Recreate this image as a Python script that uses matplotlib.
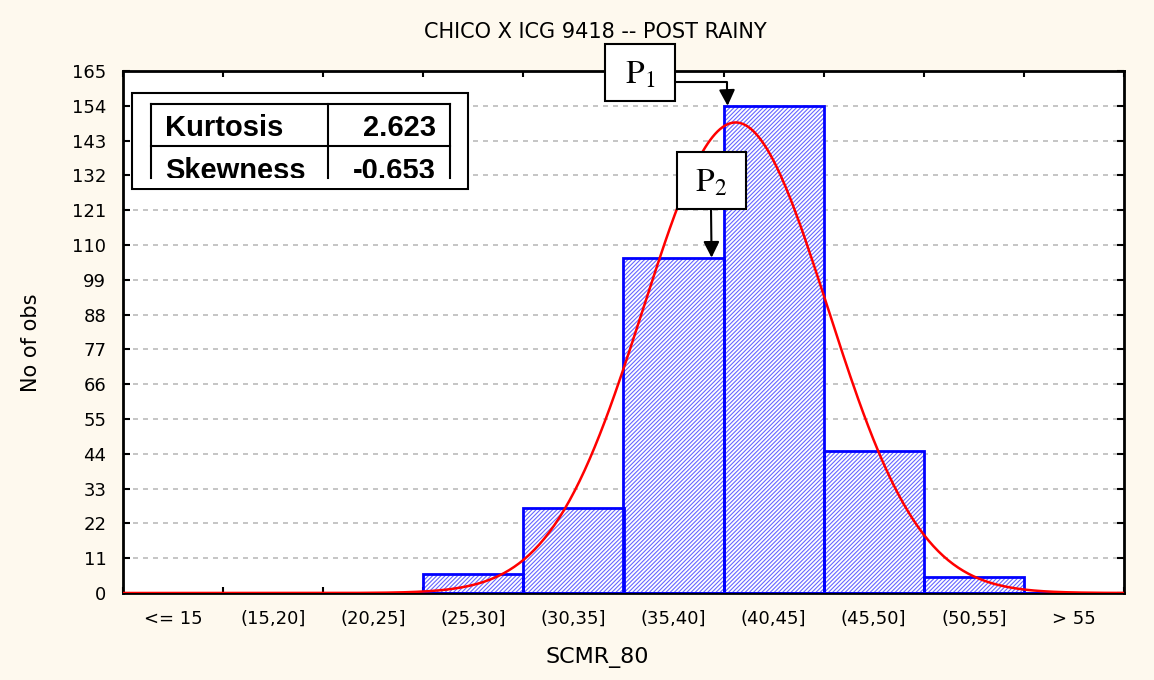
import numpy as np
import matplotlib.pyplot as plt
from matplotlib.patches import Rectangle
from matplotlib.lines import Line2D

# bins of SCMR_80 and counts
bin_labels = ["<= 15", "(15,20]", "(20,25]", "(25,30]", "(30,35]",
              "(35,40]", "(40,45]", "(45,50]", "(50,55]", "> 55"]
bin_left = [10, 15, 20, 25, 30, 35, 40, 45, 50, 55]
counts = [0, 0, 0, 6, 27, 106, 154, 45, 5, 0]
y_ticks = [0, 11, 22, 33, 44, 55, 66, 77, 88, 99, 110, 121, 132, 143, 154, 165]

# fitted normal curve parameters
fit_mean = 40.6
fit_sd = 4.6
bin_width = 5

kurtosis = "2.623"
skewness = "-0.653"

W, H = 1154, 680
plt.rcParams['font.family'] = ['DejaVu Sans']
plt.rcParams['hatch.linewidth'] = 0.8
plt.rcParams['mathtext.fontset'] = 'stix'

fig = plt.figure(figsize=(W / 100, H / 100), dpi=100, facecolor='#fef9ee')


def fx(px):
    return px / W


def fy(py):
    return 1 - py / H


ax = fig.add_axes([fx(123), fy(593), fx(1124) - fx(123), fy(71) - fy(593)])
ax.set_facecolor('white')

centers = [b + bin_width / 2 for b in bin_left]
ax.bar(bin_left, counts, width=bin_width, align='edge', color='white',
       edgecolor='#6666ff', hatch='////////', linewidth=0, zorder=2)
ax.bar(bin_left, counts, width=bin_width, align='edge', fill=False,
       edgecolor='#0000ff', linewidth=2, zorder=3)

n_total = sum(counts)
xs = np.linspace(10, 60, 400)
ys = n_total * bin_width / (fit_sd * np.sqrt(2 * np.pi)) * np.exp(-(xs - fit_mean) ** 2 / (2 * fit_sd ** 2))
ax.plot(xs, ys, color='red', linewidth=1.8, zorder=4)

ax.set_xlim(10, 60)
ax.set_ylim(0, 165)
ax.set_yticks(y_ticks)
ax.set_xticks(bin_left + [60])
ax.set_xticklabels([])
ax.set_xticks(centers, minor=True)
ax.set_xticklabels(bin_labels, minor=True)
ax.tick_params(axis='x', which='minor', length=0, pad=12, labelsize=13)
ax.tick_params(axis='x', which='major', direction='in', length=4, width=1.5, top=True)
ax.tick_params(axis='y', direction='in', length=5, width=1.5, right=True, labelsize=13, pad=12)
ax.yaxis.grid(True, color='#bbbbbb', linestyle=(0, (3, 3)), linewidth=1.2, zorder=0)
ax.set_axisbelow(True)
for s in ax.spines.values():
    s.set_linewidth(2)

fig.text(fx(597), fy(658), "SCMR_80", ha='center', va='center', fontsize=16)
fig.text(fx(31), fy(343), "No of obs", ha='center', va='center', rotation=90, fontsize=15)
fig.text(fx(595), fy(32), "CHICO X ICG 9418 -- POST RAINY", ha='center', va='center', fontsize=15)

# stats box
box_font = dict(fontsize=21, fontweight='bold', family='Liberation Sans', va='center', zorder=6)
fig.patches.append(Rectangle((fx(132), fy(189)), fx(468) - fx(132), fy(93) - fy(189),
                             transform=fig.transFigure, facecolor='white', edgecolor='black',
                             linewidth=1.5, zorder=5))
fig.text(fx(165), fy(128), "Kurtosis", **box_font)
fig.text(fx(436), fy(128), kurtosis, ha='right', **box_font)
fig.text(fx(165), fy(171), "Skewness", **box_font)
fig.text(fx(436), fy(171), skewness, ha='right', **box_font)
fig.patches.append(Rectangle((fx(134), fy(187.5)), fx(466) - fx(134), fy(178) - fy(187.5),
                             transform=fig.transFigure, facecolor='white', edgecolor='none', zorder=7))
for x0, y0, x1, y1 in [(151, 104, 450, 104), (151, 146, 450, 146),
                       (151, 104, 151, 178), (328, 104, 328, 178), (450, 104, 450, 178)]:
    fig.add_artist(Line2D([fx(x0), fx(x1)], [fy(y0), fy(y1)], color='black', linewidth=1.5, zorder=8))

# P1 / P2 annotation boxes
for (x0, y0, x1, y1, lab) in [(605, 44, 675, 101, r"$\mathrm{P}_1$"), (677, 152, 746, 209, r"$\mathrm{P}_2$")]:
    fig.patches.append(Rectangle((fx(x0), fy(y1)), fx(x1) - fx(x0), fy(y0) - fy(y1),
                                 transform=fig.transFigure, facecolor='white', edgecolor='black',
                                 linewidth=1.5, zorder=5))
    fig.text(fx((x0 + x1) / 2), fy((y0 + y1) / 2 + 2), lab, fontsize=24,
             ha='center', va='center', zorder=6)

fig.add_artist(Line2D([fx(675), fx(727), fx(727)], [fy(82), fy(82), fy(92)], color='black', linewidth=1.5))
ax.annotate("", xy=(40.2, 154), xytext=(fx(727), fy(90)), textcoords='figure fraction',
            arrowprops=dict(arrowstyle='-|>', color='black', lw=1.5, mutation_scale=24,
                            shrinkA=0, shrinkB=0), zorder=6)
ax.annotate("", xy=(39.4, 106), xytext=(fx(711), fy(209)), textcoords='figure fraction',
            arrowprops=dict(arrowstyle='-|>', color='black', lw=1.5, mutation_scale=24,
                            shrinkA=0, shrinkB=0), zorder=6)

fig.savefig("out.png", dpi=100, facecolor=fig.get_facecolor())
